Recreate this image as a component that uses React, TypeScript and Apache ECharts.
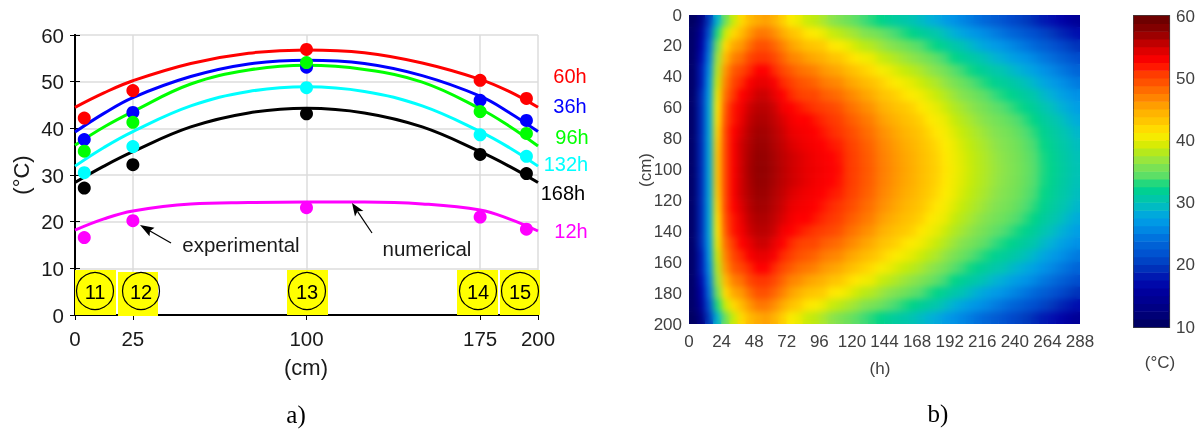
import React, { useEffect, useRef } from "react";
import * as echarts from "echarts";

const SANS = "Liberation Sans, Arial, sans-serif";
const SERIF = "Liberation Serif, serif";

// ---- a) temperature profiles
const profileDepths = [0, 12.5, 25, 50, 75, 100, 125, 150, 175, 187.5, 200];
const num60h = [44.5, 47.6, 50.2, 53.9, 56.1, 56.8, 56.2, 54, 50.5, 47.9, 44.5];
const num36h = [39.2, 43.2, 46.6, 51.1, 53.8, 54.6, 53.9, 51.3, 46.9, 43.4, 39.3];
const num96h = [36.4, 40.3, 43.6, 49.5, 52.5, 53.5, 52.6, 49.9, 44.2, 40.5, 36.2];
const num132h = [31.9, 35.9, 39.3, 44.8, 47.9, 48.9, 47.9, 44.8, 39.3, 35.9, 31.9];
const num168h = [28.4, 31.9, 35, 40.3, 43.3, 44.3, 43.3, 40.3, 35, 31.9, 28.4];
const num12h = [18.2, 20.6, 22.3, 23.8, 24.1, 24.2, 24.2, 23.8, 22.5, 20.6, 18];

const sensorDepths = [4, 25, 100, 175, 195];
const exp60h = [42.2, 48.1, 56.9, 50.3, 46.4];
const exp36h = [37.6, 43.4, 53.1, 46, 41.7];
const exp96h = [35.1, 41.3, 54.1, 43.6, 38.9];
const exp132h = [30.5, 36.1, 48.7, 38.6, 34];
const exp168h = [27.2, 32.2, 43.1, 34.4, 30.3];
const exp12h = [16.6, 20.2, 23, 21, 18.4];

const leftXLabels = [0, 25, 100, 175, 200];
const heatHourTicks = 24;
const sensorIds = ["11", "12", "13", "14", "15"];

// ---- b) temperature field: one depth profile per 6 h cell (top half, 4 to 100 cm; the field is symmetric)
const hourCells = [3,9,15,21,27,33,39,45,51,57,63,69,75,81,87,93,99,105,111,117,123,129,135,141,147,153,159,165,171,177,183,189,195,201,207,213,219,225,231,237,243,249,255,261,267,273,279,285];
const halfDepthCells = [4,12,20,28,36,44,52,60,68,76,84,92,100];
const hourProfiles = [
[10.5,11,11,11,11,11,11,11,11,11,11,11,11],
[13,15,16,17,18,18,19,19,19,19,19,19,19],
[20,22,24,25,26,27,27.5,28,28,28,28,28,28],
[29,33,35,37,38,39,40,41,41.5,42,42.5,43,43],
[35,39,42,44,46,47,48,49,49.5,50,50,50,50],
[39,42,45,47,49,50,51,52,52,52.5,53,53,53],
[42,44,46,48,50,51.5,52.5,53.5,54,54.5,55,55,55],
[44,46,48,50,51.5,53,54,55,55.5,56,56.3,56.5,56.6],
[45,47.5,49.5,51,52.5,54,55,55.8,56.3,56.7,57,57.2,57.3],
[45.5,47.5,49.5,51,52.5,54,55,55.8,56.2,56.6,56.9,57.1,57.2],
[44.5,46.5,48.5,50,51.5,53,54,55,55.5,55.9,56.2,56.5,56.6],
[42.5,45,47,48.5,50,51.5,52.5,53.5,54.5,55,55.4,55.7,55.8],
[41,43.5,45.5,47,49,50.5,51.5,52.5,53.5,54,54.5,55,55],
[40,42.5,44.5,46.5,48,49.5,50.5,52,52.5,53.5,54,54.5,54.5],
[39,41.5,43.5,45.5,47.5,49,50,51.5,52.5,53,53.5,54,54],
[38.5,41,43,45,47,48.5,50,51,52,52.5,53,53.5,53.8],
[37.5,40,42.5,44.5,46,47.5,49,50.5,51.5,52,52.5,53,53.2],
[36.5,39,41.5,43.5,45.5,47,48.5,50,51,51.5,52,52.5,52.7],
[35.8,38.4,41,43,45,46.6,48,49.4,50.4,51,51.7,52,52.2],
[35,37.6,40,42,44,45.5,47,48.2,49.2,50,50.6,51,51],
[34.4,37,39.2,41.4,43.2,44.9,46.3,47.5,48.5,49.3,49.9,50.2,50.3],
[33.6,36.1,38.4,40.5,42.3,44,45.4,46.6,47.6,48.3,48.9,49.2,49.3],
[33.1,35.6,37.9,40,41.8,43.4,44.8,46,47,47.7,48.3,48.6,48.7],
[32.5,34.9,37.1,39,40.8,42.4,43.7,44.9,45.8,46.6,47.1,47.4,47.5],
[31.8,34.2,36.4,38.4,40.1,41.7,43,44.2,45.1,45.9,46.4,46.7,46.8],
[31.2,33.6,35.8,37.7,39.4,41,42.3,43.4,44.4,45.1,45.6,45.9,46],
[30.6,33,35.1,37,38.8,40.3,41.6,42.8,43.7,44.4,44.9,45.2,45.3],
[30,32.4,34.5,36.5,38.2,39.7,41,42.2,43.1,43.8,44.3,44.6,44.7],
[29.4,31.7,33.9,35.8,37.5,39,40.3,41.4,42.3,43,43.5,43.8,43.9],
[28.8,31,33.1,35,36.7,38.2,39.5,40.5,41.4,42.1,42.6,42.9,43],
[28.1,30.4,32.4,34.3,36,37.5,38.8,39.8,40.7,41.4,41.9,42.2,42.3],
[27.2,29.5,31.6,33.5,35.1,36.6,37.9,39,39.9,40.6,41.1,41.4,41.5],
[26.4,28.7,30.7,32.6,34.2,35.7,37,38,38.9,39.6,40.1,40.4,40.5],
[25.7,27.9,30,31.8,33.5,34.9,36.2,37.3,38.1,38.8,39.3,39.6,39.7],
[25,27.2,29.3,31.1,32.8,34.2,35.5,36.6,37.4,38.1,38.6,38.9,39],
[24.2,26.5,28.5,30.4,32,33.5,34.8,35.9,36.7,37.4,37.9,38.2,38.3],
[23.5,25.8,27.8,29.7,31.4,32.9,34.2,35.2,36.1,36.8,37.3,37.6,37.7],
[22.7,25,27.1,29,30.6,32.1,33.4,34.5,35.4,36.1,36.6,36.9,37],
[22,24.3,26.5,28.4,30.1,31.6,32.9,34,34.9,35.6,36.1,36.4,36.5],
[21.2,23.6,25.8,27.7,29.4,31,32.3,33.4,34.4,35.1,35.6,35.9,36],
[20.6,22.9,25.1,27.1,28.8,30.3,31.7,32.8,33.8,34.5,35,35.3,35.4],
[19.9,22.2,24.4,26.4,28.1,29.6,31,32.1,33.1,33.8,34.3,34.6,34.7],
[19.1,21.5,23.6,25.6,27.4,28.9,30.3,31.4,32.4,33.1,33.6,33.9,34],
[18.2,20.6,22.8,24.7,26.4,28,29.3,30.4,31.4,32.1,32.6,32.9,33],
[17.5,19.8,22,24,25.7,27.2,28.6,29.7,30.7,31.4,31.9,32.2,32.3],
[16.7,19,21.2,23.2,24.9,26.4,27.8,28.9,29.9,30.6,31.1,31.4,31.5],
[15.9,18.3,20.4,22.4,24.2,25.7,27.1,28.2,29.1,29.9,30.4,30.7,30.8],
[15.1,17.5,19.6,21.6,23.4,24.9,26.3,27.4,28.3,29.1,29.6,29.9,30],
];

const colorbarLevels = [10.6,11.9,13.1,14.4,15.6,16.9,18.1,19.4,20.6,21.9,23.1,24.4,25.6,26.9,28.1,29.4,30.6,31.9,33.1,34.4,35.6,36.9,38.1,39.4,40.6,41.9,43.1,44.4,45.6,46.9,48.1,49.4,50.6,51.9,53.1,54.4,55.6,56.9,58.1,59.4];

const tempColors = ["#00005a","#00006e","#00007d","#00008c","#000096","#0000a5","#000faf","#0023b4","#003cbe","#004bcd","#005ad2","#0069da","#007de1","#0091e6","#00a0e4","#00b2d4","#00c3b4","#00cb9e","#00d487","#4bdc73","#6ee15a","#87e34e","#aae82d","#c3eb0a","#ebeb00","#ffeb00","#ffcd00","#ffbe00","#ffaa00","#ff9100","#ff7800","#ff5f00","#ff4600","#ff3200","#ff0000","#f00000","#cd0000","#af0000","#8c0000","#780000","#640000"];

const depthCells = [...halfDepthCells, ...halfDepthCells.slice(0, -1).reverse().map((d) => 200 - d)];

const heatData: number[][] = [];
hourCells.forEach((_, c) => {
  const half = hourProfiles[c];
  const col = [...half, ...half.slice(0, -1).reverse()];
  col.forEach((v, r) => heatData.push([c, r, v]));
});

const pairs = (xs: number[], ys: number[]) => xs.map((x, i) => [x, ys[i]]);

const curves = [
  { name: "168h", color: "#000000", num: num168h, exp: exp168h },
  { name: "12h", color: "#ff00ff", num: num12h, exp: exp12h },
  { name: "132h", color: "#00ffff", num: num132h, exp: exp132h },
  { name: "36h", color: "#0000ff", num: num36h, exp: exp36h },
  { name: "96h", color: "#00ff00", num: num96h, exp: exp96h },
  { name: "60h", color: "#ff0000", num: num60h, exp: exp60h },
];

const txt = (text: string, x: number, y: number, fill: string, fontSize = 20, extra: any = {}) => ({
  type: "text",
  x,
  y,
  silent: true,
  z: 20,
  ...extra,
  style: { text, fill, fontSize, fontFamily: SANS, align: "center", verticalAlign: "middle", ...(extra.style || {}) },
});

const sensorRects = [
  [75, 270, 41, 45],
  [118, 272, 40, 44],
  [287, 270, 41, 45],
  [457, 270, 41, 45],
  [500, 270, 40, 45],
];
const sensorCircles = [[95, 291], [141, 291], [307, 291], [478, 291], [520, 291]];

export default function App() {
  const heatRef = useRef<HTMLDivElement>(null);
  const mainRef = useRef<HTMLDivElement>(null);

  useEffect(() => {
    const heat = echarts.init(heatRef.current!, undefined, { renderer: "svg" });
    heat.setOption({
      animation: false,
      grid: { left: 0, top: 0, right: 0, bottom: 0 },
      xAxis: { type: "category", data: hourCells, show: false },
      yAxis: { type: "category", data: depthCells, inverse: true, show: false },
      visualMap: { show: false, min: 10, max: 60, inRange: { color: tempColors } },
      series: [{ type: "heatmap", data: heatData, silent: true, progressive: 0, itemStyle: { borderWidth: 0 } }],
    });

    const main = echarts.init(mainRef.current!, undefined, { renderer: "svg" });
    const leftLabel = { color: "#1a1a1a", fontFamily: SANS, fontSize: 20.5 };
    const heatLabel = { color: "#404040", fontFamily: SANS, fontSize: 17 };
    const blackLine = { show: true, lineStyle: { color: "#000", width: 2 } };
    const series: any[] = [];
    curves.forEach((c) => {
      series.push({
        type: "line", name: c.name, xAxisIndex: 0, yAxisIndex: 0, smooth: 0.4, symbol: "none", silent: true, z: 2,
        lineStyle: { color: c.color, width: 3 }, data: pairs(profileDepths, c.num),
      });
    });
    curves.forEach((c) => {
      series.push({
        type: "scatter", name: c.name + " exp", xAxisIndex: 0, yAxisIndex: 0, symbolSize: 13, silent: true, z: 3,
        itemStyle: { color: c.color, opacity: 1 }, data: pairs(sensorDepths, c.exp),
      });
    });
    const colorbarIndex = series.length;
    series.push({
      type: "heatmap", xAxisIndex: 3, yAxisIndex: 3, silent: true, progressive: 0,
      data: colorbarLevels.map((v, i) => [0, i, v]),
    });

    main.setOption({
      animation: false,
      grid: [
        { left: 75, top: 35, width: 463, height: 280 },
        { left: 689, top: 15, width: 391, height: 309 },
        { left: 1134, top: 16, width: 36, height: 311, show: true, borderColor: "#404040", borderWidth: 2, backgroundColor: "transparent" },
      ],
      xAxis: [
        {
          type: "value", gridIndex: 0, min: 0, max: 200, position: "bottom",
          axisLine: blackLine,
          axisTick: { show: true, inside: true, length: 5, customValues: leftXLabels, lineStyle: { color: "#000" } },
          axisLabel: { ...leftLabel, margin: 13, customValues: leftXLabels, hideOverlap: false },
          splitLine: { show: true, lineStyle: { color: "#dcdcdc", width: 1.5 } },
        },
        {
          type: "value", gridIndex: 0, min: 0, max: 200, position: "top",
          axisLine: blackLine,
          axisTick: { show: true, inside: true, length: 5, customValues: leftXLabels, lineStyle: { color: "#000" } },
          axisLabel: { show: false }, splitLine: { show: false },
        },
        {
          type: "value", gridIndex: 1, min: 0, max: 288, interval: heatHourTicks, position: "bottom",
          axisLine: { show: false }, axisTick: { show: false },
          axisLabel: { ...heatLabel, margin: 9, hideOverlap: false }, splitLine: { show: false },
        },
        { type: "category", gridIndex: 2, data: ["bar"], show: false },
      ],
      yAxis: [
        {
          type: "value", gridIndex: 0, min: 0, max: 60, interval: 10, position: "left",
          axisLine: blackLine,
          axisTick: { show: true, inside: true, length: 5, lineStyle: { color: "#000" } },
          axisLabel: { ...leftLabel, margin: 11 },
          splitLine: { show: true, lineStyle: { color: "#dcdcdc", width: 1.5 } },
        },
        {
          type: "value", gridIndex: 0, min: 0, max: 60, interval: 10, position: "right",
          axisLine: blackLine,
          axisTick: { show: true, inside: true, length: 5, lineStyle: { color: "#000" } },
          axisLabel: { show: false }, splitLine: { show: false },
        },
        {
          type: "value", gridIndex: 1, min: 0, max: 200, interval: 20, inverse: true, position: "left",
          axisLine: { show: false }, axisTick: { show: false },
          axisLabel: { ...heatLabel, margin: 7 }, splitLine: { show: false },
        },
        { type: "category", gridIndex: 2, data: colorbarLevels, show: false },
        {
          type: "value", gridIndex: 2, min: 10, max: 60, interval: 10, position: "right",
          axisLine: { show: false },
          axisTick: { show: true, inside: true, length: 3, lineStyle: { color: "#303030" } },
          axisLabel: { ...heatLabel, margin: 7 }, splitLine: { show: false },
        },
      ],
      visualMap: { show: false, min: 10, max: 60, seriesIndex: colorbarIndex, dimension: 2, inRange: { color: tempColors } },
      series,
      graphic: [
        ...sensorRects.map(([x, y, width, height]) => ({ type: "rect", silent: true, z: 5, shape: { x, y, width, height }, style: { fill: "#ffff00" } })),
        ...sensorCircles.map(([cx, cy]) => ({ type: "circle", silent: true, z: 6, shape: { cx, cy, r: 18.5 }, style: { fill: "transparent", stroke: "#000", lineWidth: 1.2 } })),
        ...sensorIds.map((id, i) => txt(id, sensorCircles[i][0], sensorCircles[i][1] + 1, "#000", 20)),
        { type: "line", silent: true, z: 10, shape: { x1: 150, y1: 231, x2: 171, y2: 243 }, style: { stroke: "#000", lineWidth: 1.2 } },
        { type: "polygon", silent: true, z: 10, shape: { points: [[140, 225], [149.5, 236.3], [150, 231], [154.5, 227.7]] }, style: { fill: "#000" } },
        { type: "line", silent: true, z: 10, shape: { x1: 357.5, y1: 211.3, x2: 372, y2: 233 }, style: { stroke: "#000", lineWidth: 1.2 } },
        { type: "polygon", silent: true, z: 10, shape: { points: [[352, 203], [355, 216.6], [357.5, 211.3], [363.4, 211]] }, style: { fill: "#000" } },
        txt("experimental", 241, 244, "#1a1a1a", 20.5),
        txt("numerical", 427, 248, "#1a1a1a", 20.5),
        txt("60h", 570, 76, "#ff0000"),
        txt("36h", 570, 106, "#0000ff"),
        txt("96h", 572, 137, "#00ff00"),
        txt("132h", 566, 164, "#00ffff"),
        txt("168h", 563, 193, "#000000"),
        txt("12h", 571, 231, "#ff00ff"),
        txt("(cm)", 306, 367, "#1a1a1a", 22),
        txt("(°C)", 21, 175, "#1a1a1a", 22, { rotation: Math.PI / 2 }),
        txt("a)", 296, 414, "#000", 25, { style: { fontFamily: SERIF } }),
        txt("b)", 938, 413, "#000", 25, { style: { fontFamily: SERIF } }),
        txt("(h)", 880, 368, "#404040", 17),
        txt("(cm)", 645, 170, "#404040", 17, { rotation: Math.PI / 2 }),
        txt("(°C)", 1160, 362, "#404040", 17),
      ],
    });

    return () => {
      main.dispose();
      heat.dispose();
    };
  }, []);

  return (
    <div style={{ position: "fixed", left: 0, top: 0, width: 1198, height: 429, background: "#fff", overflow: "hidden" }}>
      <div ref={heatRef} style={{ position: "absolute", left: 689, top: 15, width: 391, height: 309 }} />
      <div style={{ position: "absolute", left: 689, top: 15, width: 391, height: 309, backdropFilter: "blur(3px)" }} />
      <div ref={mainRef} style={{ position: "absolute", left: 0, top: 0, width: 1198, height: 429 }} />
    </div>
  );
}
